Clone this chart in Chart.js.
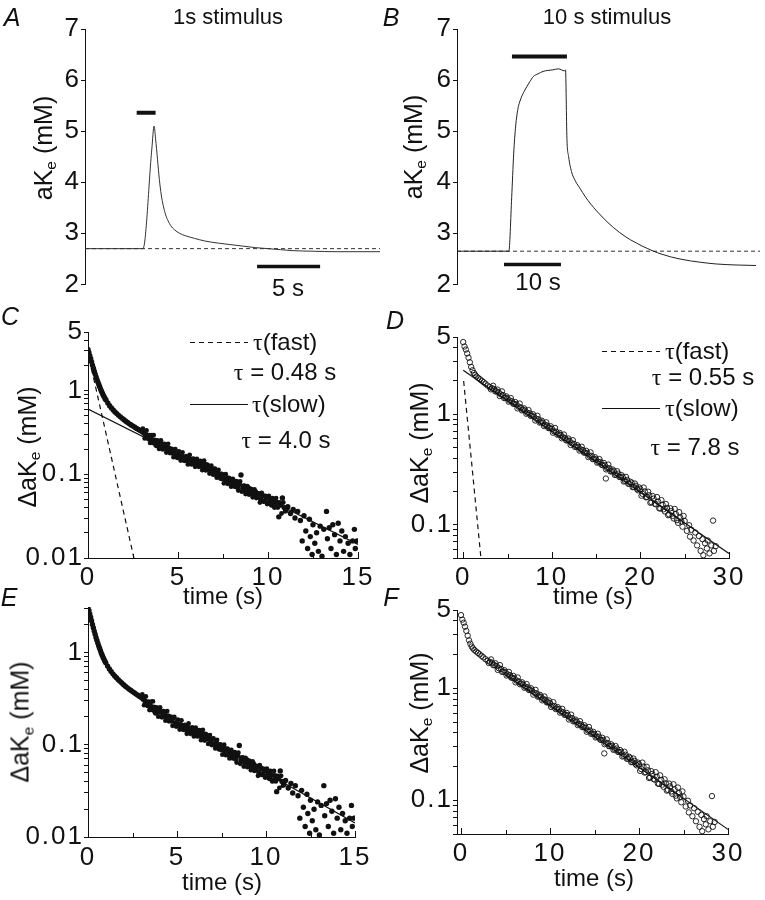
<!DOCTYPE html>
<html>
<head>
<meta charset="utf-8">
<script src="https://cdn.jsdelivr.net/npm/chart.js@4/dist/chart.umd.min.js"></script>
<style>
    body { margin: 0; background: #fff; }
    #wrap { position: relative; width: 765px; height: 900px; font-family: 'Liberation Sans', Arial, sans-serif; color: #111; overflow: hidden; }
    canvas { position: absolute; }
    .t { position: absolute; transform: translate(-50%, -50%); white-space: nowrap; font-size: 22px; line-height: 1; }
    .l { position: absolute; transform: translateY(-50%); white-space: nowrap; font-size: 24px; line-height: 1; }
    .v { position: absolute; transform: translate(-50%, -50%) rotate(-90deg); white-space: nowrap; font-size: 25px; line-height: 1; }
    .p { position: absolute; transform: translate(-50%, -50%); font-size: 25px; font-style: italic; line-height: 1; }
    .x { font-size: 24px; }
    .g { font-family: 'Liberation Serif', 'DejaVu Serif', serif; }
    sub { font-size: 0.62em; vertical-align: -0.3em; line-height: 0; }
    .solid { position: absolute; height: 1.3px; background: #111; }
    .dash { position: absolute; height: 1.3px; background: repeating-linear-gradient(90deg, #111 0 5px, transparent 5px 9px); }
</style>
</head>
<body>
<div id="wrap">
    <canvas id="cA" width="382" height="300" style="left:0;top:0"></canvas>
    <canvas id="cB" width="385" height="300" style="left:380px;top:0"></canvas>
    <canvas id="cC" width="380" height="300" style="left:0;top:300px"></canvas>
    <canvas id="cD" width="385" height="300" style="left:380px;top:300px"></canvas>
    <canvas id="cE" width="380" height="310" style="left:0;top:590px"></canvas>
    <canvas id="cF" width="385" height="310" style="left:380px;top:590px"></canvas>

    <div class="p" style="left:12px;top:17px">A</div>
    <div class="t" style="left:228px;top:17px">1s stimulus</div>
    <div class="p" style="left:391px;top:17px">B</div>
    <div class="t" style="left:607px;top:17px">10 s stimulus</div>
    <div class="v" style="left:43px;top:148px">aK<sub>e</sub> (mM)</div>
    <div class="v" style="left:413px;top:147px">aK<sub>e</sub> (mM)</div>
    <div class="t x" style="left:288px;top:288px">5 s</div>
    <div class="t x" style="left:538px;top:282px">10 s</div>

    <div class="p" style="left:10px;top:316px">C</div>
    <div class="p" style="left:395px;top:320px">D</div>
    <div class="v" style="left:27px;top:447px">ΔaK<sub>e</sub> (mM)</div>
    <div class="v" style="left:419px;top:443px">ΔaK<sub>e</sub> (mM)</div>
    <div class="t x" style="left:223px;top:596px">time (s)</div>
    <div class="t x" style="left:593px;top:596px">time (s)</div>

    <div class="dash" style="left:190px;top:342px;width:58px"></div>
    <div class="l" style="left:253px;top:342px"><span class="g">τ</span>(fast)</div>
    <div class="t x" style="left:285px;top:372px"><span class="g">τ</span> = 0.48 s</div>
    <div class="solid" style="left:190px;top:404px;width:58px"></div>
    <div class="l" style="left:252px;top:404px"><span class="g">τ</span>(slow)</div>
    <div class="t x" style="left:286px;top:440px"><span class="g">τ</span> = 4.0 s</div>

    <div class="dash" style="left:602px;top:351px;width:58px"></div>
    <div class="l" style="left:665px;top:351px"><span class="g">τ</span>(fast)</div>
    <div class="t x" style="left:703px;top:377px"><span class="g">τ</span> = 0.55 s</div>
    <div class="solid" style="left:602px;top:408px;width:58px"></div>
    <div class="l" style="left:665px;top:408px"><span class="g">τ</span>(slow)</div>
    <div class="t x" style="left:695px;top:447px"><span class="g">τ</span> = 7.8 s</div>

    <div class="p" style="left:9px;top:597px">E</div>
    <div class="p" style="left:391px;top:597px">F</div>
    <div class="v" style="left:20px;top:722px">ΔaK<sub>e</sub> (mM)</div>
    <div class="v" style="left:419px;top:713px">ΔaK<sub>e</sub> (mM)</div>
    <div class="t x" style="left:222px;top:882px">time (s)</div>
    <div class="t x" style="left:594px;top:878px">time (s)</div>
</div>

<script>
    // A: 1 s stimulus trace
    const aTime = [0, 4.6, 5.3, 5.48, 5.6, 5.75, 5.9, 6.05, 6.2, 6.4, 6.6, 6.8, 7.1, 7.5, 8.0, 8.7, 9.5, 10.5, 11.5, 12.5, 13.5, 14.5, 15.5, 16.5, 18, 20, 23.4]
    const aKe = [2.70, 2.70, 4.65, 5.10, 4.85, 4.45, 4.05, 3.75, 3.55, 3.36, 3.24, 3.15, 3.07, 3.00, 2.95, 2.90, 2.85, 2.81, 2.78, 2.75, 2.72, 2.70, 2.68, 2.66, 2.65, 2.64, 2.64]
    const aBaseT = [0, 23.4]
    const aBaseV = [2.7, 2.7]
    const aStimT = [4.1, 5.6]
    const aStimV = [5.36, 5.36]
    const aScaleT = [13.65, 18.65]
    const aScaleV = [2.35, 2.35]

    // B: 10 s stimulus trace
    const bTime = [
        0, 9.1, 9.6, 9.95, 10.3, 10.7, 11.0, 11.4, 11.8, 12.3, 12.8, 13.4, 14.2, 15.1, 16.8, 17.8, 18.9, 19.05,
        19.3, 19.6, 20.1, 20.8, 21.6, 22.5, 23.5, 24.5, 25.5, 26.5, 27.5, 28.5, 29.5, 30.5, 31.5, 32.5, 33.5,
        34.5, 36, 37.5, 39, 41, 43, 45.5, 49, 52.5
    ]
    const bKe = [
        2.65, 2.65, 3.7, 4.55, 5.1, 5.44, 5.57, 5.69, 5.78, 5.88, 5.97, 6.07, 6.12, 6.17, 6.2, 6.22, 6.18, 6.2,
        4.86, 4.5, 4.21, 4.02, 3.88, 3.72, 3.57, 3.44, 3.32, 3.21, 3.11, 3.02, 2.94, 2.87, 2.81, 2.75, 2.70,
        2.65, 2.59, 2.54, 2.50, 2.46, 2.43, 2.40, 2.38, 2.37
    ]
    const bBaseT = [0, 53.2]
    const bBaseV = [2.65, 2.65]
    const bStimT = [9.65, 19.3]
    const bStimV = [6.46, 6.46]
    const bScaleT = [8.25, 18.25]
    const bScaleV = [2.39, 2.39]
    const abYTicks = [2, 3, 4, 5, 6, 7]

    // C / E: decay after 1 s stimulus
    const cTime = [
        0, 0.05, 0.1, 0.15, 0.2, 0.25, 0.3, 0.35, 0.4, 0.45, 0.5, 0.55, 0.6, 0.65, 0.7, 0.75, 0.8, 0.85, 0.9, 0.95,
        1.0, 1.1, 1.2, 1.3, 1.4, 1.5, 1.6, 1.7, 1.8, 1.9, 2.0, 2.1, 2.2, 2.3, 2.4, 2.5, 2.6, 2.7, 2.8, 2.9,
        3.0, 3.1, 3.2, 3.3, 3.4, 3.5, 3.6, 3.7, 3.8, 3.9, 4.0, 4.1, 4.2, 4.3, 4.4, 4.5, 4.6, 4.7, 4.8, 4.9,
        5.0, 5.1, 5.2, 5.3, 5.4, 5.5, 5.6, 5.7, 5.8, 5.9, 6.0, 6.1, 6.2, 6.3, 6.4, 6.5, 6.6, 6.7, 6.8, 6.9,
        7.0, 7.1, 7.2, 7.3, 7.4, 7.5, 7.6, 7.7, 7.8, 7.9, 8.0, 8.1, 8.2, 8.3, 8.4, 8.5, 8.6, 8.7, 8.8, 8.9,
        9.0, 9.1, 9.2, 9.3, 9.4, 9.5, 9.6, 9.7, 9.8, 9.9, 10.0, 10.1, 10.2, 10.3, 10.4, 10.5, 10.6, 10.7, 10.8, 10.9,
        11.0, 11.1, 11.25, 11.4, 11.5, 11.65, 11.8, 11.9, 12.0, 12.1, 12.2, 12.3, 12.35, 12.45, 12.5, 12.6, 12.7, 12.8, 12.9, 13.0,
        13.1, 13.25, 13.3, 13.4, 13.5, 13.6, 13.7, 13.8, 13.9, 14.0, 14.1, 14.2, 14.3, 14.45, 14.55, 14.7, 14.8, 14.85, 14.95
    ]
    const cDelta = [
        3.1, 2.85, 2.6, 2.4, 2.2, 2.0, 1.85, 1.7, 1.57, 1.45, 1.35, 1.26, 1.18, 1.11, 1.04, 0.98, 0.93, 0.88, 0.84, 0.80,
        0.77, 0.71, 0.66, 0.62, 0.585, 0.555, 0.53, 0.505, 0.485, 0.465, 0.447, 0.43, 0.415, 0.40, 0.388, 0.376, 0.365, 0.353, 0.343, 0.333,
        0.324, 0.31, 0.30, 0.28, 0.29, 0.265, 0.24, 0.255, 0.22, 0.245, 0.225, 0.23, 0.205, 0.215, 0.195, 0.205, 0.19, 0.18, 0.195, 0.17,
        0.175, 0.16, 0.165, 0.15, 0.16, 0.145, 0.155, 0.14, 0.15, 0.135, 0.145, 0.13, 0.14, 0.125, 0.135, 0.12, 0.13, 0.115, 0.12, 0.105,
        0.115, 0.10, 0.108, 0.095, 0.10, 0.088, 0.095, 0.083, 0.09, 0.078, 0.084, 0.074, 0.08, 0.07, 0.076, 0.098, 0.068, 0.072, 0.064, 0.069,
        0.06, 0.065, 0.057, 0.062, 0.054, 0.058, 0.05, 0.056, 0.048, 0.053, 0.045, 0.05, 0.043, 0.047, 0.041, 0.046, 0.031, 0.043, 0.052, 0.04,
        0.037, 0.041, 0.034, 0.038, 0.03, 0.036, 0.028, 0.016, 0.032, 0.021, 0.013, 0.029, 0.018, 0.011, 0.025, 0.015, 0.02, 0.012, 0.024, 0.0105,
        0.022, 0.036, 0.017, 0.023, 0.013, 0.025, 0.019, 0.011, 0.026, 0.016, 0.021, 0.012, 0.018, 0.015, 0.011, 0.016, 0.022, 0.013, 0.016
    ]
    // second, interleaved run of samples in the noisy middle part
    const cMidTime = [
        3.05, 3.15, 3.25, 3.35, 3.45, 3.55, 3.65, 3.75, 3.85, 3.95, 4.05, 4.15, 4.25, 4.35, 4.45, 4.55, 4.65, 4.75, 4.85, 4.95,
        5.05, 5.15, 5.25, 5.35, 5.45, 5.55, 5.65, 5.75, 5.85, 5.95, 6.05, 6.15, 6.25, 6.35, 6.45, 6.55, 6.65, 6.75, 6.85, 6.95,
        7.05, 7.15, 7.25, 7.35, 7.45, 7.55, 7.65, 7.75, 7.85, 7.95, 8.05, 8.15, 8.25, 8.35, 8.45, 8.55, 8.65, 8.75, 8.85, 8.95,
        9.05, 9.15, 9.25, 9.35, 9.45, 9.55, 9.65, 9.75, 9.85, 9.95, 10.05, 10.15, 10.25, 10.35, 10.45, 10.55, 10.65, 10.75, 10.85, 10.95
    ]
    const cMidDelta = [
        0.35, 0.268, 0.333, 0.263, 0.237, 0.293, 0.294, 0.225, 0.254, 0.201, 0.254, 0.198, 0.231, 0.182, 0.231, 0.179, 0.201, 0.16, 0.2, 0.157,
        0.187, 0.146, 0.183, 0.145, 0.164, 0.131, 0.17, 0.131, 0.154, 0.123, 0.153, 0.123, 0.144, 0.112, 0.145, 0.111, 0.128, 0.102, 0.127, 0.099,
        0.117, 0.091, 0.113, 0.089, 0.1, 0.078, 0.1, 0.077, 0.09, 0.071, 0.088, 0.071, 0.083, 0.064, 0.082, 0.062, 0.073, 0.058, 0.072, 0.057,
        0.067, 0.053, 0.066, 0.052, 0.059, 0.046, 0.06, 0.047, 0.055, 0.044, 0.055, 0.044, 0.052, 0.04, 0.052, 0.04, 0.046, 0.034, 0.046, 0.036
    ]
    const cFastT = [0.2, 2.55]
    const cFastV = [1.8, 0.01]
    const cSlowT = [0, 15]
    const cSlowV = [0.6, 0.0145]
    const eFitT = [5, 15]
    const eFitV = [0.172, 0.0142]
    const cXTicks = [0, 5, 10, 15]
    const cXMinor = [2.5, 7.5, 12.5]
    const cYTicks = [0.01, 0.02, 0.03, 0.04, 0.05, 0.06, 0.07, 0.08, 0.09, 0.1, 0.2, 0.3, 0.4, 0.5, 0.6, 0.7, 0.8, 0.9, 1, 2, 3, 4, 5]
    const cYLabels = [0.01, 0.1, 1, 5]
    const eYTicks = [0.01, 0.02, 0.03, 0.04, 0.05, 0.06, 0.07, 0.08, 0.09, 0.1, 0.2, 0.3, 0.4, 0.5, 0.6, 0.7, 0.8, 0.9, 1, 2, 3]
    const eYLabels = [0.01, 0.1, 1]

    // D / F: decay after 10 s stimulus
    const dTime = [
        0, 0.15, 0.3, 0.45, 0.6, 0.75, 0.9, 1.05, 1.2, 1.35, 1.5, 1.7, 1.9, 2.1, 2.3, 2.5, 2.75, 3.0,
        3.25, 3.5, 3.75, 4.0, 4.25, 4.5, 4.75, 5.0, 5.25, 5.5, 5.75, 6.0, 6.25, 6.5, 6.75, 7.0, 7.25, 7.5, 7.75, 8.0,
        8.25, 8.5, 8.75, 9.0, 9.25, 9.5, 9.75, 10.0, 10.25, 10.5, 10.75, 11.0, 11.25, 11.5, 11.75, 12.0, 12.25, 12.5, 12.75, 13.0,
        13.25, 13.5, 13.75, 14.0, 14.25, 14.5, 14.75, 15.0, 15.25, 15.5, 15.75, 16.0, 16.1, 16.25, 16.5, 16.75, 17.0, 17.25, 17.5, 17.75,
        18.0, 18.25, 18.5, 18.75, 19.0, 19.25, 19.5, 19.75, 20.0, 20.25, 20.5, 20.75, 21.0, 21.25, 21.5, 21.75, 22.0, 22.25, 22.5, 22.75,
        23.0, 23.25, 23.5, 23.75, 24.0, 24.25, 24.5, 24.75, 25.0, 25.25, 25.5, 25.6, 25.75, 26.0, 26.2, 26.4, 26.6, 26.8, 27.0, 27.1,
        27.3, 27.5, 27.6, 27.8, 28.0, 28.2, 28.3, 28.5
    ]
    const dDelta = [
        4.5, 4.1, 3.85, 3.55, 3.25, 2.95, 2.68, 2.5, 2.36, 2.27, 2.2, 2.13, 2.07, 2.01, 1.95, 1.89, 1.82, 1.76,
        1.72, 1.69, 1.61, 1.58, 1.51, 1.49, 1.41, 1.39, 1.33, 1.31, 1.24, 1.23, 1.17, 1.15, 1.10, 1.08, 1.03, 1.02, 0.97, 0.95,
        0.91, 0.90, 0.85, 0.84, 0.80, 0.79, 0.75, 0.74, 0.70, 0.695, 0.66, 0.65, 0.62, 0.61, 0.58, 0.575, 0.545, 0.54, 0.51, 0.505,
        0.48, 0.475, 0.45, 0.445, 0.42, 0.42, 0.395, 0.39, 0.37, 0.37, 0.345, 0.345, 0.262, 0.325, 0.325, 0.305, 0.305, 0.285, 0.29, 0.27,
        0.27, 0.25, 0.255, 0.235, 0.24, 0.22, 0.225, 0.205, 0.21, 0.19, 0.20, 0.178, 0.185, 0.16, 0.172, 0.153, 0.162, 0.14, 0.152, 0.132,
        0.142, 0.124, 0.133, 0.114, 0.125, 0.104, 0.116, 0.096, 0.108, 0.088, 0.099, 0.078, 0.09, 0.072, 0.085, 0.065, 0.079, 0.058, 0.074, 0.053,
        0.068, 0.061, 0.072, 0.055, 0.065, 0.109, 0.058, 0.064
    ]
    const dMidTime = [
        3.125, 3.375, 3.625, 3.875, 4.125, 4.375, 4.625, 4.875, 5.125, 5.375, 5.625, 5.875, 6.125, 6.375, 6.625, 6.875, 7.125, 7.375, 7.625, 7.875,
        8.125, 8.375, 8.625, 8.875, 9.125, 9.375, 9.625, 9.875, 10.125, 10.375, 10.625, 10.875, 11.125, 11.375, 11.625, 11.875, 12.125, 12.375, 12.625, 12.875,
        13.125, 13.375, 13.625, 13.875, 14.125, 14.375, 14.625, 14.875, 15.125, 15.375, 15.625, 15.875, 16.125, 16.375, 16.625, 16.875, 17.125, 17.375, 17.625, 17.875,
        18.125, 18.375, 18.625, 18.875, 19.125, 19.375, 19.625, 19.875, 20.125, 20.375, 20.625, 20.875, 21.125, 21.375, 21.625, 21.875, 22.125, 22.375, 22.625, 22.875,
        23.125, 23.375, 23.625, 23.875, 24.125, 24.375, 24.625, 24.875
    ]
    const dMidDelta = [
        1.68, 1.81, 1.61, 1.67, 1.46, 1.61, 1.40, 1.45, 1.30, 1.40, 1.25, 1.29, 1.13, 1.25, 1.085, 1.13, 1.01, 1.09, 0.965, 1.0,
        0.878, 0.968, 0.841, 0.874, 0.781, 0.845, 0.749, 0.778, 0.681, 0.751, 0.653, 0.678, 0.606, 0.655, 0.58, 0.603, 0.527, 0.582, 0.506, 0.525,
        0.469, 0.508, 0.45, 0.467, 0.409, 0.452, 0.392, 0.408, 0.364, 0.393, 0.349, 0.362, 0.317, 0.35, 0.304, 0.316, 0.282, 0.305, 0.271, 0.281,
        0.246, 0.271, 0.235, 0.245, 0.219, 0.236, 0.21, 0.217, 0.183, 0.217, 0.177, 0.199, 0.158, 0.182, 0.155, 0.178, 0.141, 0.167, 0.138, 0.154,
        0.122, 0.141, 0.12, 0.139, 0.11, 0.13, 0.107, 0.12
    ]
    const dFastT = [0.05, 2.0]
    const dFastV = [2.0, 0.05]
    const dSlowT = [0, 30]
    const dSlowV = [2.5, 0.055]
    const fFitT = [5, 30]
    const fFitV = [1.32, 0.055]
    const dXTicks = [0, 10, 20, 30]
    const dXMinor = [5, 15, 25]
    const dYTicks = [0.05, 0.06, 0.07, 0.08, 0.09, 0.1, 0.2, 0.3, 0.4, 0.5, 0.6, 0.7, 0.8, 0.9, 1, 2, 3, 4, 5]
    const dYLabels = [0.1, 1, 5]

    Chart.defaults.font.family = "'Liberation Sans', Arial, sans-serif"
    Chart.defaults.color = '#111'

    const ink = '#111'

    // the figure's tick numbers are set wide, so space the glyphs a little
    Chart.register({
        id: 'wideDigits',
        beforeDraw(chart) { chart.ctx.letterSpacing = '2px' },
        afterDraw(chart) { chart.ctx.letterSpacing = '0px' }
    })

    // x ticks in the original point up into the plot
    const innerTicks = {
        id: 'innerTicks',
        afterDraw(chart, args, opts) {
            if (!opts.major) return
            const { ctx, chartArea, scales } = chart
            const draw = (v, len) => {
                const px = Math.round(scales.x.getPixelForValue(v)) + 0.5
                ctx.beginPath()
                ctx.moveTo(px, chartArea.bottom)
                ctx.lineTo(px, chartArea.bottom - len)
                ctx.stroke()
            }
            ctx.save()
            ctx.strokeStyle = ink
            ctx.lineWidth = 1
            opts.major.forEach(v => draw(v, 6))
            opts.minor.forEach(v => draw(v, 4))
            ctx.restore()
        }
    }

    const pts = (xs, ys) => xs.map((x, i) => ({ x, y: ys[i] }))

    const lineSet = (xs, ys, width, dash, color, smooth) => ({
        data: pts(xs, ys),
        showLine: true,
        pointRadius: 0,
        borderColor: color || ink,
        borderWidth: width,
        borderDash: dash || [],
        borderCapStyle: 'butt',
        cubicInterpolationMode: smooth ? 'monotone' : 'default'
    })

    const dotSet = (xs, ys, open, r) => ({
        data: pts(xs, ys),
        showLine: false,
        pointRadius: r || 2.7,
        pointBorderWidth: open ? 0.9 : 0,
        pointBorderColor: ink,
        pointBackgroundColor: open ? 'rgba(0,0,0,0)' : ink
    })

    const xAxis = (min, max, ticks, height, pad) => ({
        type: 'linear',
        min, max,
        afterFit: s => { s.height = height },
        afterBuildTicks: s => { s.ticks = ticks.map(v => ({ value: v })) },
        grid: { drawOnChartArea: false, drawTicks: false },
        border: { color: ink, width: 1 },
        ticks: { padding: pad, autoSkip: false, maxRotation: 0, font: { size: 26 } }
    })

    const yAxis = (type, min, max, ticks, labels, width) => ({
        type,
        min, max,
        afterFit: s => { s.width = width },
        afterBuildTicks: s => { s.ticks = ticks.map(v => ({ value: v })) },
        grid: { drawOnChartArea: false, tickLength: 4, color: ink },
        border: { color: ink, width: 1 },
        ticks: {
            padding: 0, autoSkip: false, font: { size: 26 },
            callback: v => labels.includes(v) ? String(v) : ''
        }
    })

    function traceChart(id, datasets, xMax, yW, pad) {
        return new Chart(document.getElementById(id), {
            type: 'scatter',
            data: { datasets },
            options: {
                animation: false,
                responsive: false,
                layout: { padding: pad },
                plugins: { legend: { display: false }, tooltip: { enabled: false } },
                scales: {
                    x: { type: 'linear', display: false, min: 0, max: xMax },
                    y: yAxis('linear', 2, 7, abYTicks, abYTicks, yW)
                }
            }
        })
    }

    function decayChart(id, o) {
        return new Chart(document.getElementById(id), {
            type: 'scatter',
            data: { datasets: o.datasets },
            options: {
                animation: false,
                responsive: false,
                layout: { padding: o.pad },
                plugins: {
                    legend: { display: false },
                    tooltip: { enabled: false },
                    innerTicks: { major: o.xTicks, minor: o.xMinor }
                },
                scales: {
                    x: xAxis(o.xMin, o.xMax, o.xTicks, o.xH, o.xPad),
                    y: yAxis('logarithmic', o.yMin, o.yMax, o.yTicks, o.yLabels, o.yW)
                }
            },
            plugins: [innerTicks]
        })
    }

    traceChart('cA', [
        lineSet(aStimT, aStimV, 4),
        lineSet(aScaleT, aScaleV, 3.5),
        lineSet(aTime, aKe, 1, null, '#333', true),
        lineSet(aBaseT, aBaseV, 1, [4, 3], '#333')
    ], 23.4, 85, { left: 0, top: 29, right: 2, bottom: 12 })

    traceChart('cB', [
        lineSet(bStimT, bStimV, 4),
        lineSet(bScaleT, bScaleV, 3.5),
        lineSet(bTime, bKe, 1, null, '#222', true),
        lineSet(bBaseT, bBaseV, 1, [4, 3], '#333')
    ], 53.2, 77, { left: 0, top: 29, right: 5, bottom: 12 })

    decayChart('cC', {
        datasets: [
            lineSet(cSlowT, cSlowV, 1.2),
            lineSet(cFastT, cFastV, 1.2, [5, 4]),
            dotSet(cTime, cDelta, false),
            dotSet(cMidTime, cMidDelta, false, 2.4)
        ],
        xMin: 0, xMax: 15, xTicks: cXTicks, xMinor: cXMinor, xH: 42, xPad: 4,
        yMin: 0.01, yMax: 5, yTicks: cYTicks, yLabels: cYLabels, yW: 88,
        pad: { left: 0, top: 32, right: 22, bottom: 0 }
    })

    decayChart('cD', {
        datasets: [
            lineSet(dSlowT, dSlowV, 1.2),
            lineSet(dFastT, dFastV, 1.2, [5, 4]),
            dotSet(dTime, dDelta, true),
            dotSet(dMidTime, dMidDelta, true)
        ],
        xMin: -0.7, xMax: 30, xTicks: dXTicks, xMinor: dXMinor, xH: 42, xPad: 4,
        yMin: 0.05, yMax: 5, yTicks: dYTicks, yLabels: dYLabels, yW: 77,
        pad: { left: 0, top: 37, right: 36, bottom: 0 }
    })

    decayChart('cE', {
        datasets: [
            lineSet(eFitT, eFitV, 1.2),
            dotSet(cTime, cDelta, false),
            dotSet(cMidTime, cMidDelta, false, 2.4)
        ],
        xMin: 0, xMax: 15, xTicks: cXTicks, xMinor: cXMinor, xH: 63, xPad: 5,
        yMin: 0.01, yMax: 3.1, yTicks: eYTicks, yLabels: eYLabels, yW: 88,
        pad: { left: 0, top: 17, right: 25, bottom: 0 }
    })

    decayChart('cF', {
        datasets: [
            lineSet(fFitT, fFitV, 1.2),
            dotSet(dTime, dDelta, true),
            dotSet(dMidTime, dMidDelta, true)
        ],
        xMin: -0.45, xMax: 30, xTicks: dXTicks, xMinor: dXMinor, xH: 66, xPad: 4,
        yMin: 0.05, yMax: 5, yTicks: dYTicks, yLabels: dYLabels, yW: 77,
        pad: { left: 0, top: 20, right: 37, bottom: 0 }
    })
</script>
</body>
</html>
